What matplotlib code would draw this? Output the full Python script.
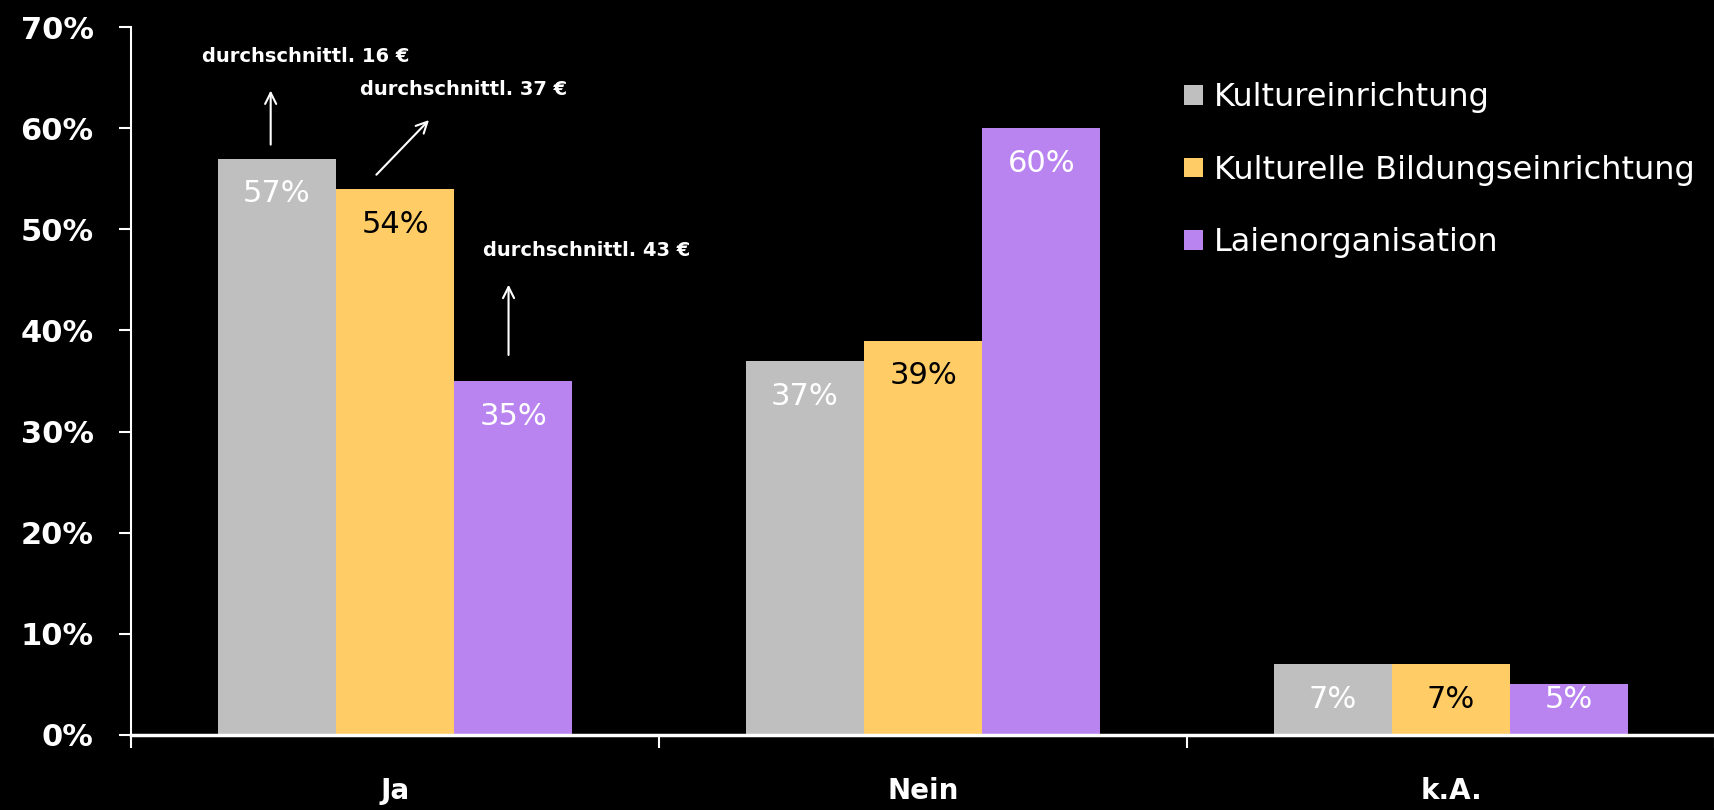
import matplotlib
matplotlib.use("Agg")
import matplotlib.pyplot as plt
import numpy as np

categories = ["Ja", "Nein", "k.A."]
series_names = ["Kultureinrichtung", "Kulturelle Bildungseinrichtung", "Laienorganisation"]
kultur = [57, 37, 7]
bildung = [54, 39, 7]
laien = [35, 60, 5]
y_ticks = [0, 10, 20, 30, 40, 50, 60, 70]

colors = ["#BFBFBF", "#FFCC66", "#B983F0"]
label_colors = ["white", "black", "white"]

plt.rcParams['font.family'] = ['DejaVu Sans']

fig = plt.figure(figsize=(17.15, 8.1), dpi=100, facecolor="black")
ax = fig.add_axes([0.0764, 0.0926, 0.9236, 0.874])
ax.set_facecolor("black")

x = np.arange(len(categories))
w = 0.224
all_vals = [kultur, bildung, laien]
for i, vals in enumerate(all_vals):
    bars = ax.bar(x + (i - 1) * w, vals, width=w, color=colors[i], label=series_names[i], zorder=2)
    for b, v in zip(bars, vals):
        # label sits a bit under the top, but not lower than for short bars
        ax.text(b.get_x() + b.get_width() / 2, max(v - 3.5, 3.5), "%d%%" % v,
                ha="center", va="center", fontsize=22, color=label_colors[i])

ax.set_xlim(-0.5, 2.5)
ax.set_ylim(0, 70)
ax.set_yticks(y_ticks)
ax.set_yticklabels(["%d%%" % t for t in y_ticks], fontsize=22, fontweight="bold", color="white")
ax.tick_params(axis="y", colors="white", length=9, width=1.5, pad=18)

# ticks between groups, labels at centres
ax.set_xticks([-0.5, 0.5, 1.5, 2.5])
ax.set_xticklabels([])
ax.set_xticks(x, minor=True)
ax.set_xticklabels(categories, minor=True, fontsize=20, fontweight="bold", color="white")
ax.tick_params(axis="x", which="major", colors="white", length=9, width=1.5)
ax.tick_params(axis="x", which="minor", length=0, pad=30)

for s in ["top", "right"]:
    ax.spines[s].set_visible(False)
ax.spines["left"].set_color("white")
ax.spines["left"].set_linewidth(1.5)
ax.spines["bottom"].set_color("white")
ax.spines["bottom"].set_linewidth(2.5)

# notes on average amounts
notes = [("durchschnittl. 16 €", (-0.2355, 58.1), (-0.2355, 64.0), (-0.169, 67.1)),
         ("durchschnittl. 37 €", (-0.039, 55.2), (0.068, 61.0), (0.130, 63.8)),
         ("durchschnittl. 43 €", (0.215, 37.3), (0.215, 44.8), (0.362, 47.9))]
for txt, start, end, tpos in notes:
    ax.annotate("", xy=end, xytext=start,
                arrowprops=dict(arrowstyle="->", color="white", lw=1.5, mutation_scale=20))
    ax.text(tpos[0], tpos[1], txt, ha="center", va="center", fontsize=14,
            fontweight="bold", color="white")

leg = ax.legend(loc="upper left", bbox_to_anchor=(0.665, 0.922), frameon=False,
                fontsize=23, labelcolor="white", handlelength=0.58, handleheight=0.58,
                handletextpad=0.35, labelspacing=1.3, borderpad=0, borderaxespad=0)

fig.savefig("out.png", dpi=100, facecolor="black")
